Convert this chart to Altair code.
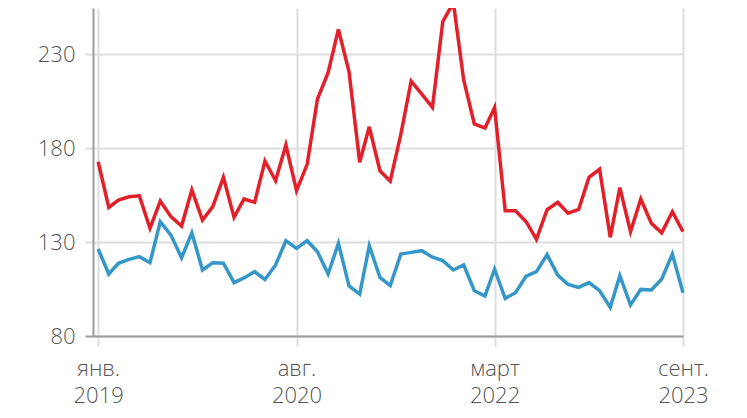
import altair as alt
import pandas as pd

# Monthly points, Jan 2019 .. Sep 2023
years = [2019] * 12 + [2020] * 12 + [2021] * 12 + [2022] * 12 + [2023] * 9
month_nums = list(range(1, 13)) * 4 + list(range(1, 10))

red_values = [172.7, 148.4, 152.3, 154.1, 154.6, 137.3, 151.8, 143.5, 138.5, 157.7,
              141.7, 148.8, 164.4, 143.1, 152.9, 151.1, 173.1, 162.6, 181.6, 157.3,
              171.3, 206.1, 220.1, 243.1, 220.6, 172.4, 191.3, 167.9, 162.4, 187.4,
              215.6, 208.7, 201.6, 247.2, 257.4, 216.2, 192.8, 190.6, 201.5, 146.6,
              146.6, 140.8, 131.4, 147.2, 151.1, 145.3, 147.4, 164.4, 168.7, 132.5,
              158.9, 135.5, 152.9, 139.9, 134.9, 146.1, 135.5]

blue_values = [126.3, 113.0, 118.7, 120.8, 122.2, 119.0, 140.8, 133.7, 121.6, 134.9,
               115.1, 119.0, 118.7, 108.4, 110.9, 114.2, 110.1, 117.8, 130.7, 126.6,
               130.7, 124.8, 113.0, 129.3, 106.6, 102.3, 128.0, 111.2, 106.8, 123.6,
               124.5, 125.4, 121.9, 120.1, 115.1, 117.8, 104.1, 101.3, 115.5, 100.0,
               103.0, 111.9, 114.2, 123.3, 112.4, 107.5, 105.9, 108.4, 104.1, 95.2,
               112.1, 96.5, 104.8, 104.5, 110.3, 123.6, 103.0]

series_names = ["red", "blue"]
series_colors = ["#e31f29", "#3497c8"]
y_ticks = [80, 130, 180, 230]

dates = [f"{y}-{m:02d}-01T00:00:00" for y, m in zip(years, month_nums)]
rows = []
for d, v in zip(dates, red_values):
    rows.append({"date": d, "value": v, "series": "red"})
for d, v in zip(dates, blue_values):
    rows.append({"date": d, "value": v, "series": "blue"})
df = pd.DataFrame(rows)

FONT = "Open Sans"
GRID = "#dedede"
AXIS = "#9c9c9c"
LABEL = "#555555"

label_expr = ("[['янв.','февр.','март','апр.','май','июнь','июль','авг.','сент.','окт.','нояб.','дек.']"
              "[month(datum.value)], '' + year(datum.value)]")

x_axis = alt.Axis(
    values=[alt.DateTime(year=2019, month=1, date=1),
            alt.DateTime(year=2020, month=8, date=1),
            alt.DateTime(year=2022, month=3, date=1),
            alt.DateTime(year=2023, month=9, date=1)],
    labelExpr=label_expr,
    title=None,
    grid=True,
    gridColor=GRID,
    gridWidth=2,
    domainColor=AXIS,
    domainWidth=2,
    tickColor=GRID,
    tickWidth=2,
    tickSize=10,
    labelPadding=12,
    labelFont=FONT,
    labelFontSize=22,
    labelFontWeight=300,
    labelColor=LABEL,
    labelLineHeight=27,
    labelAlign="center",
    labelBaseline="top",
)

y_axis = alt.Axis(
    values=y_ticks,
    title=None,
    grid=True,
    gridColor=GRID,
    gridWidth=2,
    domainColor=AXIS,
    domainWidth=2,
    tickColor={"condition": {"test": "datum.value === 80", "value": AXIS}, "value": GRID},
    tickWidth=2,
    tickSize=8,
    labelPadding=10,
    labelFont=FONT,
    labelFontSize=22,
    labelFontWeight=300,
    labelColor=LABEL,
)

chart = alt.Chart(df).mark_line(strokeWidth=3.5, strokeJoin="miter").encode(
    x=alt.X("date:T",
            scale=alt.Scale(domain=[alt.DateTime(year=2018, month=12, date=17),
                                    alt.DateTime(year=2023, month=9, date=1)]),
            axis=x_axis),
    y=alt.Y("value:Q", scale=alt.Scale(domain=[80, 254.5], nice=False, zero=False),
            axis=y_axis),
    color=alt.Color("series:N", scale=alt.Scale(domain=series_names, range=series_colors),
                    legend=None),
).properties(
    width=590,
    height=328,
    autosize=alt.AutoSizeParams(type="none"),
    padding={"left": 85, "top": 0, "right": 50, "bottom": 74},
).configure_view(stroke=None)

chart.save("out.html", embed_options={"renderer": "svg", "actions": False})
